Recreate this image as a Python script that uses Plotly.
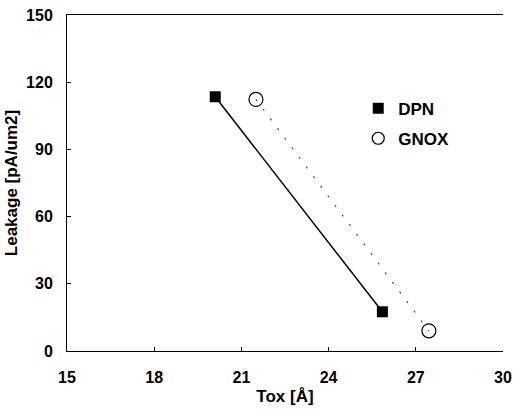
import plotly.graph_objects as go

tox_dpn = [20.1, 25.85]
leak_dpn = [113.5, 17.5]
tox_gnox = [21.5, 27.45]
leak_gnox = [112.3, 9.0]

x_ticks = [15, 18, 21, 24, 27, 30]
y_ticks = [0, 30, 60, 90, 120, 150]

FAM = "Liberation Sans, Arial, sans-serif"
TICKF = dict(family=FAM, size=16, color="black", weight="bold")
TITLEF = dict(family=FAM, size=17, color="black", weight="bold")

fig = go.Figure()
fig.add_trace(go.Scatter(
    x=tox_dpn, y=leak_dpn, mode="lines+markers", name="DPN", legendgroup="a",
    showlegend=False,
    line=dict(color="black", width=1.5),
    marker=dict(symbol="square", size=11, color="black"),
))
fig.add_trace(go.Scatter(
    x=tox_gnox, y=leak_gnox, mode="lines+markers", name="GNOX", legendgroup="b",
    showlegend=False,
    line=dict(color="#444444", width=1.2, dash="2px,10px"),
    marker=dict(symbol="circle-open", size=14, color="black", line=dict(width=1.2)),
))
fig.add_trace(go.Scatter(
    x=[None], y=[None], mode="markers", name="DPN", legendgroup="a",
    marker=dict(symbol="square", size=11, color="black"),
))
fig.add_trace(go.Scatter(
    x=[None], y=[None], mode="markers", name="GNOX", legendgroup="b",
    marker=dict(symbol="circle-open", size=12, color="black", line=dict(width=1.2)),
))

fig.update_layout(
    width=514, height=412,
    margin=dict(l=67, r=11, t=15, b=61, autoexpand=False),
    paper_bgcolor="white", plot_bgcolor="rgba(0,0,0,0)",
    font=TICKF,
    showlegend=True,
    legend=dict(x=0.668, y=0.775, xanchor="left", yanchor="top",
                bgcolor="rgba(0,0,0,0)", borderwidth=0, font=TITLEF, itemwidth=30,
                tracegroupgap=5),
)
fig.update_xaxes(
    range=[15, 30], tickvals=x_ticks, ticktext=[str(v) for v in x_ticks],
    showgrid=False, zeroline=False, showline=True, linecolor="black",
    mirror=True, ticks="inside", ticklen=4, tickcolor="black", automargin=False,
    ticklabelstandoff=12, tickfont=TICKF,
    title=dict(text="Tox [Å]", font=TITLEF, standoff=4),
)
fig.update_yaxes(
    range=[0, 150], tickvals=y_ticks, ticktext=[str(v) for v in y_ticks],
    showgrid=False, zeroline=False, showline=True, linecolor="black",
    ticks="inside", ticklen=4, tickcolor="black", automargin=False,
    ticklabelstandoff=10, tickfont=TICKF,
    title=dict(text="Leakage [pA/um2]", font=TITLEF, standoff=4),
)

fig.write_html("out.html")
